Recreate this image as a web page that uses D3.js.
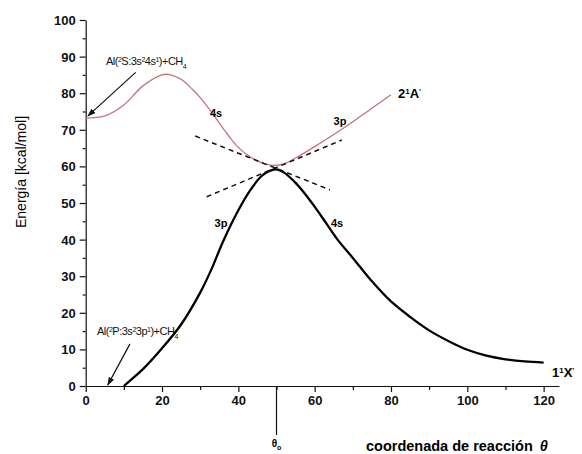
<!DOCTYPE html>
<html>
<head>
<meta charset="utf-8">
<script src="https://cdn.jsdelivr.net/npm/d3@7"></script>
<style>
  body { margin: 0; background: #fff; }
  svg { font-family: "Liberation Sans", Arial, sans-serif; }
  .tick text { font-size: 13px; fill: #111; }
  .axis path, .axis line { stroke: #111; stroke-width: 1.2; }
</style>
</head>
<body>
<svg id="chart" width="582" height="454"></svg>
<script>
// estado excitado 2¹A' (curva roja)
const upperX = [0, 5, 10, 15, 20, 22, 25, 28, 30, 33, 36, 38, 40, 42, 45, 47, 49, 52, 55, 60, 65, 70, 75, 80];
const upperY = [73.2, 73.8, 76.8, 82, 85, 85.1, 83.8, 81, 78.8, 74.8, 70.4, 67.6, 65.2, 63.4, 61.5, 60.7, 60.3, 60.7, 62.3, 65.4, 68.7, 72.2, 75.9, 79.6];

// estado fundamental 1¹X' (curva negra)
const lowerX = [10, 12, 15, 20, 25, 30, 33, 36, 40, 43, 46, 48, 50, 52, 55, 58, 60, 63, 66, 70, 75, 80, 85, 90, 95, 100, 105, 110, 115, 120];
const lowerY = [0, 1.8, 4.6, 10.3, 16.8, 25.5, 32, 39.5, 48, 53.3, 57.3, 58.7, 59.2, 58.3, 55.5, 51.8, 49, 44.5, 40, 35, 28.6, 23.1, 18.9, 15.2, 12.3, 9.9, 8.3, 7.3, 6.7, 6.4];

// rectas diabáticas (discontinuas)
const diab1 = [[28.7, 68.3], [64, 53.6]];
const diab2 = [[31.7, 51.7], [67.1, 67.2]];

const xTicks = [0, 20, 40, 60, 80, 100, 120];
const yTicks = [0, 10, 20, 30, 40, 50, 60, 70, 80, 90, 100];
const theta0 = 50;

const svg = d3.select("#chart");
const x = d3.scaleLinear().domain([0, 124]).range([85.7, 558.9]);
const y = d3.scaleLinear().domain([0, 100]).range([386, 20]);

// ejes
const xAxis = svg.append("g").attr("class", "axis")
    .attr("transform", `translate(0,${y(0)})`)
    .call(d3.axisBottom(x).tickValues(xTicks).tickSize(6).tickSizeOuter(0).tickPadding(4));
xAxis.selectAll("text").style("font-weight", "bold");
svg.append("g").attr("class", "axis")
    .attr("transform", `translate(0,${y(0)})`)
    .call(d3.axisBottom(x).tickValues(d3.range(10, 120, 20)).tickSize(4).tickFormat("").tickSizeOuter(0))
    .select(".domain").remove();

const yAxis = svg.append("g").attr("class", "axis")
    .attr("transform", `translate(${x(0)},0)`)
    .call(d3.axisLeft(y).tickValues(yTicks).tickSize(6).tickSizeOuter(0).tickPadding(4));
yAxis.selectAll("text").style("font-weight", "bold").attr("dy", "0.34em");
svg.append("g").attr("class", "axis")
    .attr("transform", `translate(${x(0)},0)`)
    .call(d3.axisLeft(y).tickValues(d3.range(5, 100, 10)).tickSize(3).tickFormat("").tickSizeOuter(0))
    .select(".domain").remove();

// curvas
const line = d3.line().x(d => x(d[0])).y(d => y(d[1])).curve(d3.curveCatmullRom.alpha(0.5));
svg.append("path")
    .datum(upperX.map((v, i) => [v, upperY[i]]))
    .attr("d", line)
    .attr("fill", "none").attr("stroke", "#c8707c").attr("stroke-width", 1.3);
svg.append("path")
    .datum(lowerX.map((v, i) => [v, lowerY[i]]))
    .attr("d", line)
    .attr("fill", "none").attr("stroke", "#000").attr("stroke-width", 2.3);

[diab1, diab2].forEach(seg => {
    svg.append("path")
        .datum(seg)
        .attr("d", d3.line().x(d => x(d[0])).y(d => y(d[1])))
        .attr("stroke", "#111").attr("stroke-width", 1.5)
        .attr("stroke-dasharray", "5,4").attr("fill", "none");
});

// marca θ0
svg.append("line")
    .attr("x1", x(theta0)).attr("x2", x(theta0))
    .attr("y1", y(0)).attr("y2", 435)
    .attr("stroke", "#111").attr("stroke-width", 1.2);
const t0 = svg.append("text").attr("x", x(theta0)).attr("y", 447)
    .attr("text-anchor", "middle").style("font-size", "10px").style("font-weight", "bold");
t0.append("tspan").text("θ");
t0.append("tspan").attr("dy", 3).style("font-size", "7px").text("o");

// flechas
svg.append("defs").append("marker")
    .attr("id", "arrow").attr("viewBox", "0 0 10 10").attr("refX", 9).attr("refY", 5)
    .attr("markerWidth", 7).attr("markerHeight", 7).attr("orient", "auto")
    .append("path").attr("d", "M0,1.5 L10,5 L0,8.5 z").attr("fill", "#111");

function arrow(x1, y1, x2, y2) {
    svg.append("line")
        .attr("x1", x(x1)).attr("y1", y(y1)).attr("x2", x(x2)).attr("y2", y(y2))
        .attr("stroke", "#111").attr("stroke-width", 1.2)
        .attr("marker-end", "url(#arrow)");
}
arrow(13.1, 85.7, 0.6, 73.8);
arrow(11.6, 11.5, 5.8, 0.3);

// etiquetas de los estados atómicos
function stateLabel(px, py, parts) {
    const t = svg.append("text").attr("x", px).attr("y", py)
        .style("font-size", "11px").style("letter-spacing", "-0.5px").attr("fill", "#111");
    parts.forEach(p => {
        const s = t.append("tspan").text(p[0]);
        if (p[1] === "sup") s.attr("baseline-shift", "super").style("font-size", "7px");
        if (p[1] === "sub") s.attr("baseline-shift", "sub").style("font-size", "7px");
    });
}
stateLabel(106, 65, [["Al("], ["2", "sup"], ["S:3s"], ["2", "sup"], ["4s"], ["1", "sup"], [")+CH"], ["4", "sub"]]);
stateLabel(97, 335, [["Al("], ["2", "sup"], ["P:3s"], ["2", "sup"], ["3p"], ["1", "sup"], [")+CH"], ["4", "sub"]]);

// etiquetas de orbitales
const orbLabels = [["4s", 216, 117], ["3p", 340, 125], ["3p", 221, 227], ["4s", 337, 227]];
orbLabels.forEach(d => {
    svg.append("text").attr("x", d[1]).attr("y", d[2]).attr("text-anchor", "middle")
        .style("font-size", "11px").style("font-weight", "bold").text(d[0]);
});

// etiquetas de estados moleculares
function molLabel(px, py, num, sym) {
    const t = svg.append("text").attr("x", px).attr("y", py)
        .style("font-size", "13px").style("font-weight", "bold");
    t.append("tspan").text(num);
    t.append("tspan").attr("baseline-shift", "super").style("font-size", "8px").text("1");
    t.append("tspan").text(sym);
    t.append("tspan").attr("baseline-shift", "super").style("font-size", "8px").text("'");
}
molLabel(398, 98, "2", "A");
molLabel(552, 377, "1", "X");

// títulos de ejes
const xl = svg.append("text").attr("x", 366).attr("y", 451)
    .style("font-size", "14.5px").style("font-weight", "bold");
xl.append("tspan").text("coordenada de reacción ");
xl.append("tspan").style("font-style", "italic").attr("dx", 3).text("θ");

svg.append("text")
    .attr("transform", "translate(26,172) rotate(-90)")
    .attr("text-anchor", "middle")
    .style("font-size", "14px")
    .text("Energía [kcal/mol]");
</script>
</body>
</html>
